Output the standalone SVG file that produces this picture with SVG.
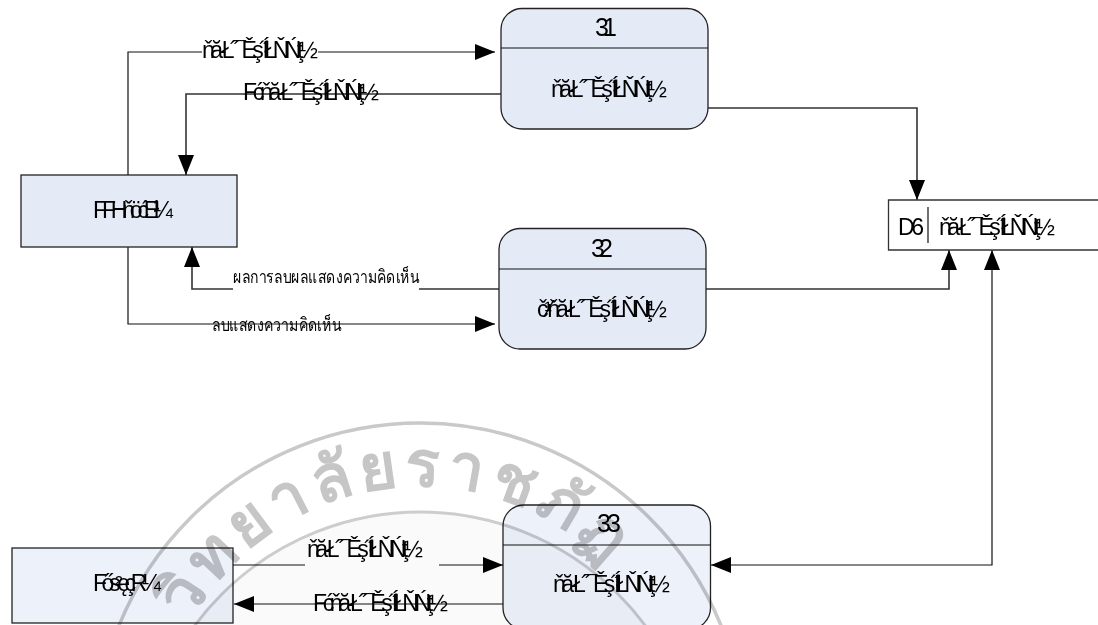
<svg xmlns="http://www.w3.org/2000/svg" width="1098" height="625" viewBox="0 0 1098 625">
<style>
text{font-family:"Liberation Sans",Arial,sans-serif;fill:#000;font-size:23px}
.box{fill:#e4eaf6;stroke:#222;stroke-width:1.3}
.soft{fill:#edf1f9;mix-blend-mode:multiply}
.ln{fill:none;stroke:#111;stroke-width:1.2}
.g{fill:none;stroke:#333;stroke-width:1.6}
.wm{fill:none;stroke:#c9c9c9;stroke-width:3.500}
.thai{font-size:18px}
.num{font-size:25px}
</style>
<defs>
<marker id="a" markerUnits="userSpaceOnUse" markerWidth="21" markerHeight="16" refX="20" refY="8" orient="auto"><path d="M0 0L20 8L0 16Z" fill="#000"/></marker>
</defs>
<g id="watermark">
<circle cx="420" cy="792" r="280" fill="#fafafa" stroke="#cdcdcd" stroke-width="3"/>
<circle cx="420" cy="748" r="325" class="wm"/>
<path id="arc" d="M158 748A262 262 0 0 1 682 748" fill="none"/>
<text style="font-family:'Liberation Serif',serif;font-size:64px;fill:#c6c6c6;stroke:#c6c6c6;stroke-width:2;letter-spacing:6px"><textPath href="#arc" startOffset="16%">วิทยาลัยราชภัฏ</textPath></text>
</g>
<g id="connectors">
<path class="ln" d="M128 175V52H202M318 52H495" marker-end="url(#a)"/>
<path class="g" d="M501 94H186V175" marker-end="url(#a)"/>
<path class="g" d="M708 108H917V200" marker-end="url(#a)"/>
<path class="g" d="M499 289H419M233 289H192V247" marker-end="url(#a)"/>
<path class="ln" d="M128 247V324H495" marker-end="url(#a)"/>
<path class="g" d="M706 289H949V250" marker-end="url(#a)"/>
<path class="ln" d="M992 250V565H711" marker-end="url(#a)"/>
<path d="M992 250l-8 20h16Z" fill="#000"/>
<path class="ln" d="M233 565H305M439 565H503" marker-end="url(#a)"/>
<path class="ln" d="M503 604H234" marker-end="url(#a)"/>
</g>
<g id="n31">
<rect class="box" x="501" y="8.500" width="207" height="120.500" rx="21"/>
<path class="ln" d="M501 48H708"/>
<text class="num" x="595" y="36" textLength="22" lengthAdjust="spacing">31</text>
<text x="551" y="97" textLength="116" lengthAdjust="spacing">ňă-Ł˝¯Ěş˝ÍŁŇŃţ½</text>
</g>
<g id="n32">
<rect class="box" x="499" y="228.500" width="207" height="120.500" rx="21"/>
<path class="ln" d="M499 269H706"/>
<text class="num" x="591" y="257" textLength="22" lengthAdjust="spacing">32</text>
<text x="537" y="317" textLength="130" lengthAdjust="spacing">č¹⁄ňă-Ł˝¯Ěş˝ÍŁŇŃţ½</text>
</g>
<g id="n33">
<rect class="box soft" x="503" y="505" width="207.500" height="124" rx="21"/>
<path class="ln" d="M503 545H711"/>
<text class="num" x="597" y="532" textLength="24" lengthAdjust="spacing">33</text>
<text x="553" y="592" textLength="117" lengthAdjust="spacing">ňă-Ł˝¯Ěş˝ÍŁŇŃţ½</text>
</g>
<g id="user">
<rect class="box" x="21" y="175" width="216" height="72"/>
<text x="93" y="218" textLength="80" lengthAdjust="spacing">FFHňöćEł¼</text>
</g>
<g id="admin">
<rect class="box soft" x="12" y="548" width="221" height="75"/>
<text x="93" y="591" textLength="68" lengthAdjust="spacing">Fős²ęçR¼</text>
</g>
<g id="d6">
<path fill="#fff" stroke="#333" stroke-width="1.300" d="M1098 200H888.500V250H1098"/>
<path class="ln" d="M928 207V243"/>
<text x="898" y="235" textLength="26" lengthAdjust="spacing">D6</text>
<text x="939" y="235" textLength="116" lengthAdjust="spacing">ňă-Ł˝¯Ěş˝ÍŁŇŃţ½</text>
</g>
<g id="labels">
<text x="202" y="58" textLength="116" lengthAdjust="spacing">ňă-Ł˝¯Ěş˝ÍŁŇŃţ½</text>
<text x="243" y="100" textLength="136" lengthAdjust="spacing">Fćňă-Ł˝¯Ěş˝ÍŁŇŃţ½</text>
<text class="thai" x="233" y="283" textLength="186" lengthAdjust="spacingAndGlyphs">ผลการลบผลแสดงความคิดเห็น</text>
<text class="thai" x="212" y="331" textLength="129" lengthAdjust="spacingAndGlyphs">ลบแสดงความคิดเห็น</text>
<text x="307" y="557" textLength="116" lengthAdjust="spacing">ňă-Ł˝¯Ěş˝ÍŁŇŃţ½</text>
<text x="313" y="611" textLength="135" lengthAdjust="spacing">Fćňă-Ł˝¯Ěş˝ÍŁŇŃţ½</text>
</g>
</svg>
